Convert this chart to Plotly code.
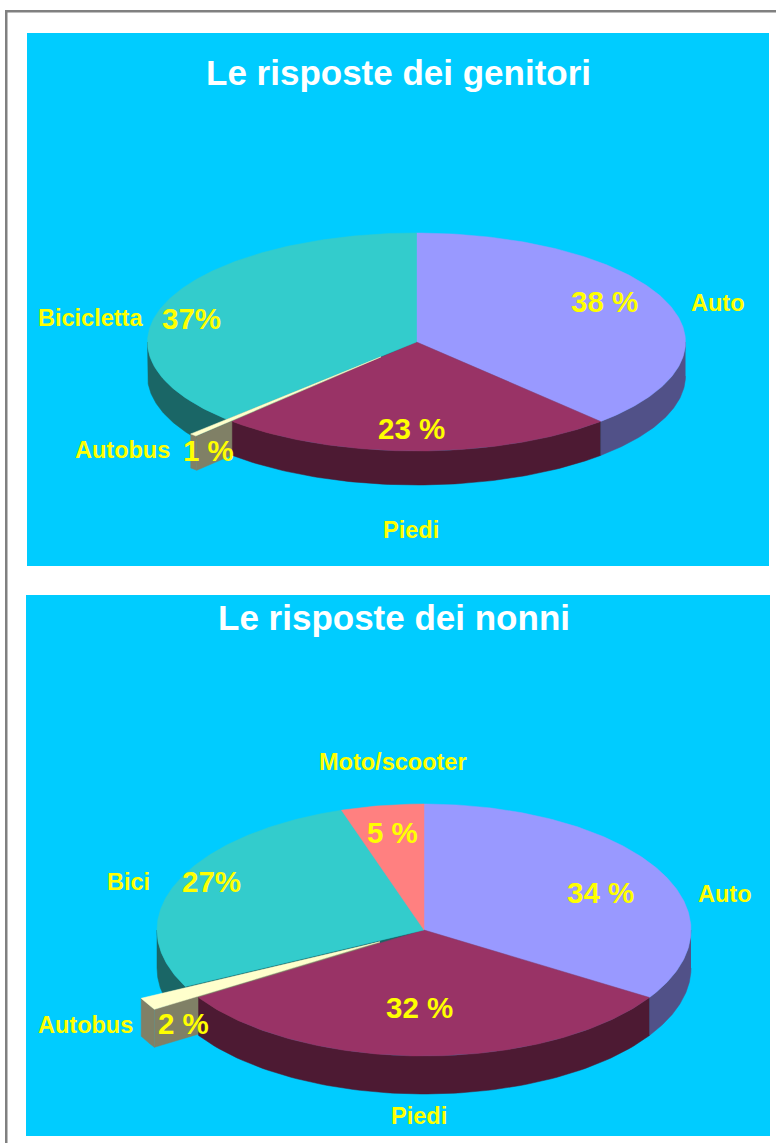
import numpy as np
import plotly.graph_objects as go

# ---- data ----
top_title = "Le risposte dei genitori"
top_categories = ["Auto", "Piedi", "Autobus", "Bicicletta"]
top_values = [38, 24, 0.5, 37.5]
top_pct_labels = ["38 %", "23 %", "1 %", "37%"]

bottom_title = "Le risposte dei nonni"
bottom_categories = ["Auto", "Piedi", "Autobus", "Bici", "Moto/scooter"]
bottom_values = [34, 32, 1.6, 27.4, 5]
bottom_pct_labels = ["34 %", "32 %", "2 %", "27%", "5 %"]

# ---- styles ----
BG = "#00CCFF"
FACE = {"Auto": "#9999FF", "Piedi": "#993366", "Autobus": "#FFFFCC",
        "Bicicletta": "#33CCCC", "Bici": "#33CCCC", "Moto/scooter": "#FF8080"}
SIDE = {"Auto": "#515188", "Piedi": "#4D1A33", "Autobus": "#808066",
        "Bicicletta": "#1A6666", "Bici": "#1A6666", "Moto/scooter": "#804040"}
EXPLODE = 0.19

fig = go.Figure()


def add_poly(xs, ys, color, name):
    fig.add_trace(go.Scatter(x=list(xs), y=list(ys), mode="lines", fill="toself",
                             fillcolor=color, line=dict(width=0.5, color=color),
                             name=name, showlegend=False, hoverinfo="name"))


def pie3d(cats, vals, cx, cy, rx, ry, depth):
    total = sum(vals)
    edges = np.concatenate([[0], np.cumsum(vals)]) * 360.0 / total

    def pt(deg, r=1.0, ox=0.0, oy=0.0):
        a = np.radians(deg)
        return cx + ox + rx * r * np.sin(a), cy + oy - ry * r * np.cos(a)

    spans = {c: (edges[i], edges[i + 1]) for i, c in enumerate(cats)}
    explode_cat = "Autobus"
    a0, a1 = spans[explode_cat]
    mid = np.radians((a0 + a1) / 2)
    ox, oy = EXPLODE * rx * np.sin(mid), -EXPLODE * ry * np.cos(mid)

    def side_band(c, ox_=0.0, oy_=0.0):
        s, e = spans[c]
        s, e = max(s, 90), min(e, 270)
        if e <= s:
            return
        t = np.linspace(s, e, 80)
        x, y = pt(t, 1.0, ox_, oy_)
        add_poly(np.r_[x, x[::-1]], np.r_[y, (y + depth)[::-1]], SIDE[c], c)

    # cut face of the slice following the exploded one
    next_cat = cats[cats.index(explode_cat) + 1]
    ex, ey = pt(spans[next_cat][0])
    add_poly([cx, ex, ex, cx], [cy, ey, ey + depth, cy + depth], SIDE[next_cat], next_cat)

    for c in cats:
        if c not in (explode_cat, "Piedi"):
            side_band(c)

    # exploded slice: cut face and rim
    bx, by = pt(a0, 1.0, ox, oy)
    add_poly([cx + ox, bx, bx, cx + ox], [cy + oy, by, by + depth, cy + oy + depth],
             SIDE[explode_cat], explode_cat)
    side_band(explode_cat, ox, oy)
    side_band("Piedi")

    # top faces
    for c in cats:
        if c == explode_cat:
            continue
        s, e = spans[c]
        t = np.linspace(s, e, 160)
        x, y = pt(t)
        add_poly(np.r_[cx, x, cx], np.r_[cy, y, cy], FACE[c], c)

    t = np.linspace(a0, a1, 20)
    x, y = pt(t, 1.0, ox, oy)
    add_poly(np.r_[cx + ox, x, cx + ox], np.r_[cy + oy, y, cy + oy], FACE[explode_cat], explode_cat)


pie3d(top_categories, top_values, 416.5, 342, 269, 109, 34)
pie3d(bottom_categories, bottom_values, 424, 930, 267, 126, 38)


def label(text, x, y, size, color="#FFFF00"):
    fig.add_annotation(x=x, y=y, text=f"<b>{text}</b>", showarrow=False,
                       xanchor="center", yanchor="middle",
                       font=dict(family="Liberation Sans, Arial, sans-serif", size=size, color=color))


label(top_title, 398, 72, 35, "#FFFFFF")
label(bottom_title, 394, 617, 35, "#FFFFFF")

top_name_pos = [(718, 303), (411, 530), (122, 450), (90, 318)]
top_pct_pos = [(604, 301), (411, 428), (208, 450), (191, 318)]
for c, p in zip(top_categories, top_name_pos):
    label(c, p[0], p[1], 23.5)
for c, p in zip(top_pct_labels, top_pct_pos):
    label(c, p[0], p[1], 29.5)

bottom_name_pos = [(725, 894), (419, 1116), (85, 1025), (128, 882), (393, 762)]
bottom_pct_pos = [(600, 892), (419, 1007), (183, 1023), (211, 881), (392, 832)]
for c, p in zip(bottom_categories, bottom_name_pos):
    label(c, p[0], p[1], 23.5)
for c, p in zip(bottom_pct_labels, bottom_pct_pos):
    label(c, p[0], p[1], 29.5)

shapes = [
    dict(type="rect", xref="x", yref="y", x0=27, x1=769, y0=33, y1=566,
         fillcolor=BG, line_width=0, layer="below"),
    dict(type="rect", xref="x", yref="y", x0=26, x1=770, y0=595, y1=1136,
         fillcolor=BG, line_width=0, layer="below"),
    dict(type="rect", xref="x", yref="y", x0=5, x1=7.5, y0=10, y1=1143,
         fillcolor="#808080", line_width=0, layer="below"),
    dict(type="rect", xref="x", yref="y", x0=5, x1=776, y0=10, y1=12.5,
         fillcolor="#808080", line_width=0, layer="below"),
]

fig.update_layout(
    width=776, height=1143, margin=dict(l=0, r=0, t=0, b=0),
    paper_bgcolor="#FFFFFF", plot_bgcolor="#FFFFFF", showlegend=False, shapes=shapes,
    xaxis=dict(range=[0, 776], visible=False, fixedrange=True),
    yaxis=dict(range=[1143, 0], visible=False, fixedrange=True),
)

fig.write_html("out.html", config={"displayModeBar": False},
               post_script="document.body.style.margin='0';document.body.style.overflow='hidden';")
